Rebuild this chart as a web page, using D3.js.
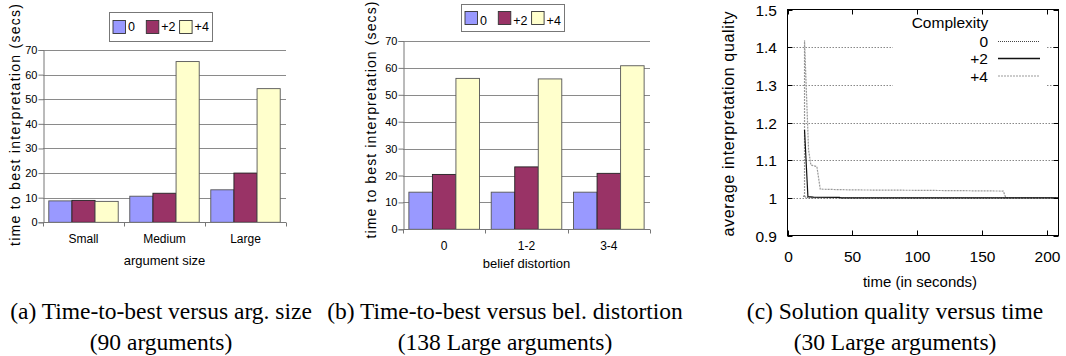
<!DOCTYPE html>
<html>
<head>
<meta charset="utf-8">
<script src="https://cdn.jsdelivr.net/npm/d3@7"></script>
<style>
  body { margin: 0; background: #fff; }
  svg { display: block; }
</style>
</head>
<body>
<svg id="chart" width="1066" height="356"></svg>
<script>
// ---- data ----
var seriesNames = ["0", "+2", "+4"];
var seriesColors = ["#9999ff", "#993366", "#ffffcc"];

var sizeCats = ["Small", "Medium", "Large"];
var sizeZero = [8.7, 10.6, 13.2];
var sizeTwo = [8.9, 11.8, 20.0];
var sizeFour = [8.5, 65.3, 54.3];

var distCats = ["0", "1-2", "3-4"];
var distZero = [13.8, 13.8, 13.8];
var distTwo = [20.4, 23.2, 20.8];
var distFour = [56.1, 55.9, 60.8];

var barTicks = [0, 10, 20, 30, 40, 50, 60, 70];

// quality over time (c)
var t0 = [12, 13, 16, 40, 208];
var q0 = [1.005, 1.003, 1.0, 1.0, 1.0];
var t2 = [13.1, 15.7, 20, 40, 41, 208];
var q2 = [1.18, 1.003, 1.002, 1.001, 1.0, 1.0];
var t4 = [13.1, 13.1, 16.2, 18, 22.6, 25.2, 50, 100, 166, 168, 208];
var q4 = [1.002, 1.418, 1.127, 1.087, 1.083, 1.023, 1.021, 1.02, 1.018, 1.0, 1.0];

var qTicks = [0.9, 1, 1.1, 1.2, 1.3, 1.4, 1.5];
var tTicks = [0, 50, 100, 150, 200];

var captions = [
  ["(a) Time-to-best versus arg. size", "(90 arguments)"],
  ["(b) Time-to-best versus bel. distortion", "(138 Large arguments)"],
  ["(c) Solution quality versus time", "(30 Large arguments)"]
];

var svg = d3.select("#chart");
var sans = "'Liberation Sans', Arial, sans-serif";
var serif = "'Liberation Serif', 'Times New Roman', serif";

function barChart(o) {
  var g = svg.append("g");
  var y = d3.scaleLinear().domain([0, 70]).range([o.bottom, o.top]);
  var x0 = d3.scaleBand().domain(o.cats).range([o.left, o.right]);
  var x1 = d3.scaleBand().domain(seriesNames).range([0, x0.bandwidth()]).paddingOuter(0.25);

  // gridlines
  g.selectAll(".grid").data(barTicks.slice(1)).join("line")
    .attr("x1", o.left).attr("x2", o.right)
    .attr("y1", d => Math.round(y(d)) + 0.5).attr("y2", d => Math.round(y(d)) + 0.5)
    .attr("stroke", "#8a8a8a").attr("stroke-width", 1);

  var rows = o.cats.map((c, i) => ({ cat: c, vals: o.values.map(v => v[i]) }));
  g.selectAll(".grp").data(rows).join("g")
    .attr("transform", d => `translate(${x0(d.cat)},0)`)
    .selectAll("rect").data(d => d.vals.map((v, k) => ({ k: k, v: v })))
    .join("rect")
    .attr("x", d => x1(seriesNames[d.k]))
    .attr("width", x1.bandwidth())
    .attr("y", d => y(d.v))
    .attr("height", d => y(0) - y(d.v))
    .attr("fill", d => seriesColors[d.k])
    .attr("stroke", d => d.k == 1 ? "#222" : "#555")
    .attr("stroke-width", 0.9);

  // axes
  var yAxis = d3.axisLeft(y).tickValues(barTicks).tickSize(5).tickFormat(d3.format("d"));
  var ya = g.append("g").attr("transform", `translate(${o.left + 0.5},0)`).call(yAxis);
  ya.select(".domain").attr("stroke", "#777");
  ya.selectAll(".tick line").attr("stroke", "#777");
  ya.selectAll("text").attr("font-family", sans).attr("font-size", 11).attr("x", -6);

  var bottom = Math.round(y(0)) + 0.5;
  g.append("line").attr("x1", o.left).attr("x2", o.right)
    .attr("y1", bottom).attr("y2", bottom).attr("stroke", "#777");
  var edges = o.cats.map(c => x0(c)).concat([o.right]);
  g.selectAll(".ct").data(edges).join("line")
    .attr("x1", d => Math.round(d) + 0.5).attr("x2", d => Math.round(d) + 0.5)
    .attr("y1", bottom).attr("y2", bottom + 4).attr("stroke", "#777");
  g.selectAll(".cl").data(o.cats).join("text")
    .attr("x", d => x0(d) + x0.bandwidth() / 2)
    .attr("y", o.catY)
    .attr("text-anchor", "middle")
    .attr("font-family", sans).attr("font-size", 12)
    .text(d => d);

  g.append("text")
    .attr("x", (o.left + o.right) / 2 + o.xTitleShift)
    .attr("y", o.xTitleY)
    .attr("text-anchor", "middle")
    .attr("font-family", sans).attr("font-size", 13)
    .text(o.xTitle);

  g.append("text")
    .attr("transform", `translate(${o.yTitleX},${o.yTitleC}) rotate(-90)`)
    .attr("text-anchor", "middle")
    .attr("font-family", sans).attr("font-size", 14)
    .attr("textLength", o.yTitleLen).attr("lengthAdjust", "spacing")
    .text("time to best interpretation (secs)");

  // legend
  var lg = g.append("g");
  lg.append("rect").attr("x", o.lx + 0.5).attr("y", o.ly + 0.5)
    .attr("width", o.lw).attr("height", o.lh)
    .attr("fill", "#fff").attr("stroke", "#777");
  seriesNames.forEach(function (s, k) {
    var sx = o.lx + o.sw0 + k * 33.3;
    lg.append("rect").attr("x", sx).attr("y", o.ly + o.sy)
      .attr("width", 12.5).attr("height", 13)
      .attr("fill", seriesColors[k]).attr("stroke", "#333").attr("stroke-width", 0.9);
    lg.append("text").attr("x", sx + 15).attr("y", o.ly + o.sy + o.tyOff)
      .attr("font-family", sans).attr("font-size", 12.5)
      .text(s);
  });
}

barChart({
  cats: sizeCats, values: [sizeZero, sizeTwo, sizeFour],
  left: 43, right: 286, top: 50, bottom: 222.3,
  catY: 243, xTitle: "argument size", xTitleY: 264.5, xTitleShift: 0,
  yTitleX: 20, yTitleC: 125, yTitleLen: 242,
  lx: 109, ly: 12, lw: 103, lh: 29, sw0: 4, sy: 8.5, tyOff: 10.5
});

barChart({
  cats: distCats, values: [distZero, distTwo, distFour],
  left: 403, right: 650, top: 41, bottom: 229.3,
  catY: 250, xTitle: "belief distortion", xTitleY: 267.5, xTitleShift: 0,
  yTitleX: 376, yTitleC: 120, yTitleLen: 237,
  lx: 461, ly: 4, lw: 103, lh: 27, sw0: 4, sy: 7.5, tyOff: 13.5
});

// ---- (c) line chart ----
(function () {
  var g = svg.append("g");
  var L = 787.5, R = 1058.5, T = 9.5, B = 235.5;
  var x = d3.scaleLinear().domain([0, 208.5]).range([L, R]);
  var y = d3.scaleLinear().domain([0.9, 1.5]).range([B, T]);

  var key = { x1: 893, x2: 1047, y1: 12, y2: 88 };
  [1.0, 1.1, 1.2, 1.3, 1.4].forEach(function (v) {
    var yy = Math.round(y(v)) + 0.5;
    var segs = (yy > key.y1 && yy < key.y2) ? [[L, key.x1], [key.x2, R]] : [[L, R]];
    segs.forEach(function (s) {
      g.append("line").attr("x1", s[0]).attr("x2", s[1]).attr("y1", yy).attr("y2", yy)
        .attr("stroke", "#888").attr("stroke-dasharray", "1.5,1.5").attr("stroke-width", 1);
    });
  });

  var line = d3.line().x(d => x(d[0])).y(d => y(d[1]));
  g.append("path").datum(d3.zip(t4, q4)).attr("d", line)
    .attr("fill", "none").attr("stroke", "#999").attr("stroke-width", 1.2)
    .attr("stroke-dasharray", "2,1");
  g.append("path").datum(d3.zip(t0, q0)).attr("d", line)
    .attr("fill", "none").attr("stroke", "#444").attr("stroke-width", 1)
    .attr("stroke-dasharray", "1,1");
  g.append("path").datum(d3.zip(t2, q2)).attr("d", line)
    .attr("fill", "none").attr("stroke", "#111").attr("stroke-width", 1.2);

  // frame
  g.append("rect").attr("x", L).attr("y", T).attr("width", R - L).attr("height", B - T)
    .attr("fill", "none").attr("stroke", "#000").attr("stroke-width", 1);

  // ticks (inward, mirrored)
  qTicks.forEach(function (v) {
    var yy = Math.round(y(v)) + 0.5;
    g.append("line").attr("x1", L).attr("x2", L + 5).attr("y1", yy).attr("y2", yy).attr("stroke", "#000");
    g.append("line").attr("x1", R - 5).attr("x2", R).attr("y1", yy).attr("y2", yy).attr("stroke", "#000");
    g.append("text").attr("x", 777).attr("y", yy + 5.5).attr("text-anchor", "end")
      .attr("font-family", sans).attr("font-size", 15.5)
      .text(v === 1 ? "1" : d3.format(".1f")(v));
  });
  tTicks.forEach(function (v) {
    var xx = Math.round(x(v)) + 0.5;
    g.append("line").attr("x1", xx).attr("x2", xx).attr("y1", B - 5).attr("y2", B).attr("stroke", "#000");
    g.append("line").attr("x1", xx).attr("x2", xx).attr("y1", T).attr("y2", T + 5).attr("stroke", "#000");
    g.append("text").attr("x", xx).attr("y", 262).attr("text-anchor", "middle")
      .attr("font-family", sans).attr("font-size", 15.5).text(v);
  });

  g.append("text").attr("x", 920).attr("y", 287).attr("text-anchor", "middle")
    .attr("font-family", sans).attr("font-size", 15).text("time (in seconds)");
  g.append("text")
    .attr("transform", "translate(734,124) rotate(-90)")
    .attr("text-anchor", "middle")
    .attr("font-family", sans).attr("font-size", 16)
    .attr("textLength", 225).attr("lengthAdjust", "spacing")
    .text("average interpretation quality");

  // key
  g.append("text").attr("x", 950).attr("y", 28).attr("text-anchor", "middle")
    .attr("font-family", sans).attr("font-size", 15.5).text("Complexity");
  var keyRows = [
    { name: "0", y: 41.5, stroke: "#444", dash: "1,1", w: 1 },
    { name: "+2", y: 58.5, stroke: "#111", dash: null, w: 1.3 },
    { name: "+4", y: 76, stroke: "#999", dash: "2,1", w: 1.2 }
  ];
  keyRows.forEach(function (r) {
    g.append("text").attr("x", 988).attr("y", r.y + 5.5).attr("text-anchor", "end")
      .attr("font-family", sans).attr("font-size", 15.5).text(r.name);
    g.append("line").attr("x1", 998).attr("x2", 1040).attr("y1", r.y).attr("y2", r.y)
      .attr("stroke", r.stroke).attr("stroke-width", r.w)
      .attr("stroke-dasharray", r.dash);
  });
})();

// ---- captions ----
var capX = [161, 505, 895];
captions.forEach(function (c, i) {
  svg.append("text").attr("x", capX[i]).attr("y", 319).attr("text-anchor", "middle")
    .attr("font-family", serif).attr("font-size", 23.5)
    .text(c[0]);
  svg.append("text").attr("x", capX[i]).attr("y", 350).attr("text-anchor", "middle")
    .attr("font-family", serif).attr("font-size", 23.5)
    .text(c[1]);
});
</script>
</body>
</html>
